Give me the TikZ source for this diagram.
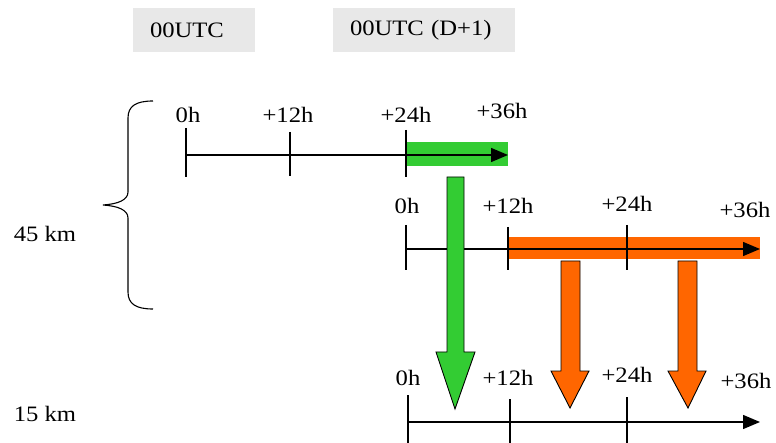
\documentclass[tikz,border=0pt]{standalone}
\usepackage{fontspec}
\setmainfont{Liberation Serif}[FakeStretch=1.12]
\usetikzlibrary{arrows.meta}
\definecolor{ggreen}{HTML}{33CC33}
\definecolor{oorange}{HTML}{FF6600}
\definecolor{boxgray}{HTML}{E8E8E8}
\begin{document}
\begin{tikzpicture}[x=1pt,y=-1pt,
  lbl/.style={inner sep=0pt,font=\fontsize{22}{26}\selectfont},
  axis/.style={line width=1.4pt,-{Triangle[length=17pt,width=14pt]}},
  tick/.style={line width=1.2pt},
  blockarrow/.style={draw=black,line width=0.9pt},
  hdr/.style={fill=boxgray,inner xsep=17pt,inner ysep=0pt,minimum height=44pt,align=left,font=\fontsize{22}{26}\selectfont}]
\useasboundingbox (0,0) rectangle (776,443);
% header boxes
\node[hdr,text width=88pt] (h1) at (194,30) {00UTC};
\node[hdr,text width=148pt] (h2) at (424,30) {00UTC (D+1)};
% brace
\draw[line width=1.1pt] (153,101) .. controls (136,101) and (128,106) .. (128,118) -- (128,192)
  .. controls (128,200) and (118,204) .. (103,205)
  .. controls (118,206) and (128,210) .. (128,218) -- (128,292)
  .. controls (128,304) and (136,309) .. (153,309);
\node[lbl] (km45) at (45,234) {45 km};
\node[lbl] (km15) at (45,414) {15 km};
% timeline 1
\fill[ggreen] (406,142) rectangle (508,166);
\coordinate (a0) at (186,155);
\coordinate (aend) at (508,155);
\draw[axis] (a0) -- (aend);
\draw[tick] (186,128) -- (186,177);
\draw[tick] (290,132) -- (290,176);
\draw[tick] (406,130) -- (406,177);
\node[lbl] (t1a) at (188,115) {0h};
\node[lbl] (t1b) at (288,115) {+12h};
\node[lbl] (t1c) at (406,115) {+24h};
\node[lbl] (t1d) at (502,111) {+36h};
% timeline 2
\fill[oorange] (508,237) rectangle (760,259);
\coordinate (b0) at (406,249);
\coordinate (bend) at (760,249);
\draw[axis] (b0) -- (bend);
\draw[tick] (406,225) -- (406,270);
\draw[tick] (508,227) -- (508,270);
\draw[tick] (627,225) -- (627,270);
\node[lbl] (t2a) at (407,206) {0h};
\node[lbl] (t2b) at (508,206) {+12h};
\node[lbl] (t2c) at (627,204) {+24h};
\node[lbl] (t2d) at (745,210) {+36h};
% timeline 3
\coordinate (c0) at (408,422);
\coordinate (cend) at (760,422);
\draw[axis] (c0) -- (cend);
\draw[tick] (408,395) -- (408,445);
\draw[tick] (510,399) -- (510,445);
\draw[tick] (627,397) -- (627,445);
\node[lbl] (t3a) at (408,378) {0h};
\node[lbl] (t3b) at (508,378) {+12h};
\node[lbl] (t3c) at (627,375) {+24h};
\node[lbl] (t3d) at (746,381) {+36h};
% block arrows
\draw[blockarrow,fill=ggreen] (447,177) -- (464,177) -- (464,352) -- (475,352) -- (455,409)
  -- (436,352) -- (447,352) -- cycle;
\draw[blockarrow,fill=oorange] (561,261) -- (580,261) -- (580,371) -- (589,371) -- (570,408)
  -- (551,371) -- (561,371) -- cycle;
\draw[blockarrow,fill=oorange] (678,261) -- (697,261) -- (697,371) -- (706,371) -- (688,408)
  -- (668,371) -- (678,371) -- cycle;
\end{tikzpicture}
\end{document}
